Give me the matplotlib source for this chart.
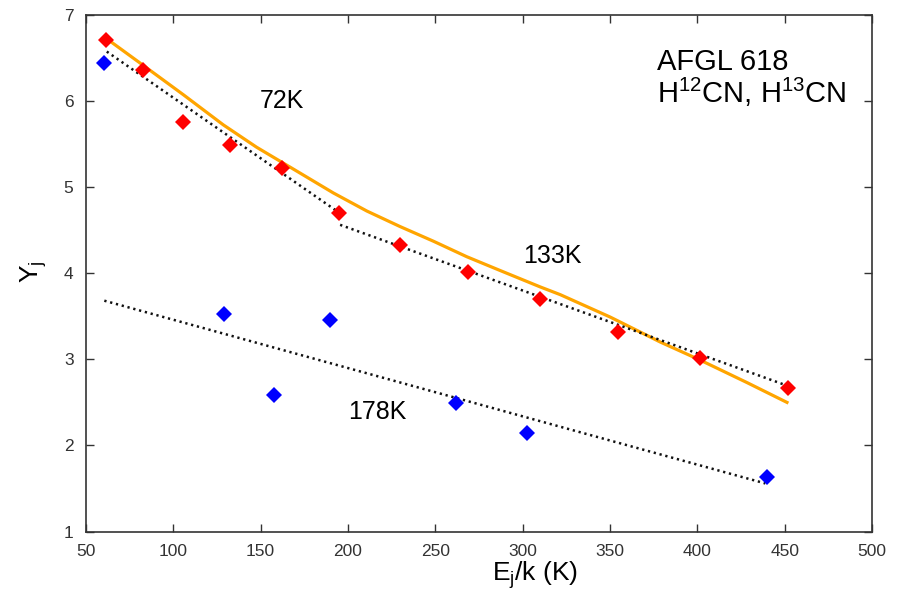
import numpy as np
import matplotlib
matplotlib.use('Agg')
import matplotlib.pyplot as plt

plt.rcParams['font.family'] = ['Liberation Sans', 'DejaVu Sans']
plt.rcParams['mathtext.fontset'] = 'custom'
plt.rcParams['mathtext.rm'] = 'Liberation Sans'
plt.rcParams['mathtext.it'] = 'Liberation Sans'
plt.rcParams['mathtext.default'] = 'regular'

# H12CN rotation diagram points (red)
e_red = [61.5, 82.7, 105.6, 132.6, 162.4, 195.0, 230.0, 268.5, 309.7, 354.5, 401.5, 452.0]
y_red = [6.71, 6.36, 5.75, 5.49, 5.22, 4.70, 4.33, 4.01, 3.70, 3.32, 3.01, 2.67]

# H13CN points (blue)
e_blue = [60.3, 129.1, 157.8, 189.9, 261.6, 302.3, 439.9]
y_blue = [6.44, 3.52, 2.59, 3.46, 2.49, 2.14, 1.64]

# linear fits (dotted): 72K, 133K and 178K segments
fit72_e = [61.9, 195.0]
fit72_y = [6.57, 4.70]
fit133_e = [195.5, 450.6]
fit133_y = [4.56, 2.70]
fit178_e = [60.5, 438.9]
fit178_y = [3.68, 1.56]

# model curve (orange)
model_e = [61.8, 82.8, 105.7, 128.6, 147.7, 166.8, 191.6, 210.8, 229.8, 248.9,
           268.0, 287.1, 310.0, 321.5, 350.1, 378.8, 401.7, 428.4, 451.3]
model_y = [6.72, 6.41, 6.07, 5.72, 5.46, 5.23, 4.93, 4.72, 4.54, 4.37,
           4.19, 4.03, 3.84, 3.75, 3.49, 3.20, 2.99, 2.73, 2.50]

fig = plt.figure(figsize=(9.08, 5.95), dpi=100)
ax = fig.add_axes([0.0947, 0.1064, 0.8657, 0.8692])

ax.plot(model_e, model_y, '-', color='#ffa500', lw=2.3, zorder=2)
for fe, fy in [(fit72_e, fit72_y), (fit133_e, fit133_y), (fit178_e, fit178_y)]:
    ax.plot(fe, fy, color='#111111', lw=1.8, ls=(0, (0.9, 1.5)), zorder=3)
ax.plot(e_red, y_red, 'D', color='red', ms=8.5, mew=0, zorder=4)
ax.plot(e_blue, y_blue, 'D', color='blue', ms=8.5, mew=0, zorder=4)

ax.text(162, 6.0, '72K', fontsize=18, ha='center', va='center')
ax.text(317, 4.2, '133K', fontsize=18, ha='center', va='center')
ax.text(217, 2.39, '178K', fontsize=18, ha='center', va='center')
ax.text(0.727, 0.876, 'AFGL 618\nH$^{12}$CN, H$^{13}$CN', transform=ax.transAxes,
        fontsize=21, ha='left', va='center', linespacing=1.0)

ax.set_xlim(50, 500)
ax.set_ylim(1, 7)
ax.set_xticks(np.arange(50, 501, 50))
ax.set_yticks(np.arange(1, 8, 1))
ax.tick_params(direction='in', length=6, width=1, top=True, right=True,
               labelsize=12.5, pad=9, colors='#333333', labelcolor='#333333')
for s in ax.spines.values():
    s.set_color('#333333')
    s.set_linewidth(1.2)

ax.text(0.571, -0.084, 'E$_j$/k (K)', transform=ax.transAxes, fontsize=19,
        ha='center', va='center')
ax.text(-0.067, 0.502, 'Y$_j$', transform=ax.transAxes, fontsize=19,
        ha='center', va='center', rotation=90)

fig.savefig('out.png', dpi=100)
